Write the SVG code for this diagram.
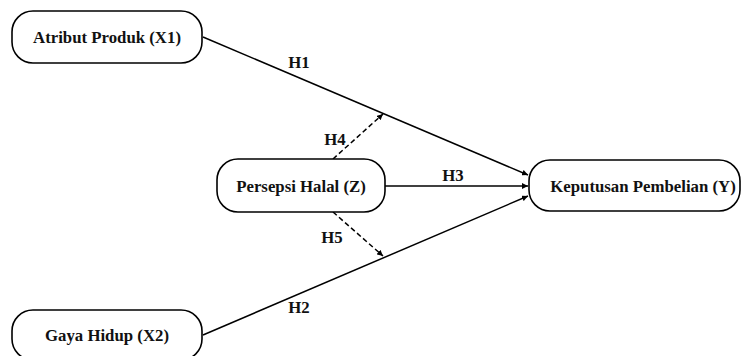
<svg xmlns="http://www.w3.org/2000/svg" width="743" height="356" viewBox="0 0 743 356">
  <style>
    .box { fill: #ffffff; stroke: #000000; stroke-width: 1.6; }
    .lbl { font-family: 'Liberation Serif', 'Times New Roman', serif; font-weight: bold; font-size: 16.8px; fill: #111111; text-anchor: middle; dominant-baseline: central; }
    .edge { fill: none; stroke: #000000; stroke-width: 1.5; }
    .dash { stroke-dasharray: 5 3; }
  </style>
  <defs>
    <marker id="arrow" viewBox="0 0 10 10" refX="10" refY="5" markerWidth="6" markerHeight="6" markerUnits="userSpaceOnUse" orient="auto">
      <path d="M0,0 L10,5 L0,10 z" fill="#000000"/>
    </marker>
  </defs>
  <rect width="743" height="356" fill="#ffffff"/>

  <!-- connectors and their hypothesis labels -->
  <g id="connectors">
    <line class="edge" x1="203" y1="37" x2="528" y2="175" marker-end="url(#arrow)"/>
    <line class="edge" x1="203" y1="335" x2="528" y2="196" marker-end="url(#arrow)"/>
    <line class="edge" x1="385" y1="186" x2="528" y2="186" marker-end="url(#arrow)"/>
    <line class="edge dash" x1="333" y1="159" x2="383" y2="114" marker-end="url(#arrow)"/>
    <line class="edge dash" x1="333" y1="212" x2="383" y2="256" marker-end="url(#arrow)"/>
    <text class="lbl" x="299" y="62">H1</text>
    <text class="lbl" x="299" y="307">H2</text>
    <text class="lbl" x="453" y="175">H3</text>
    <text class="lbl" x="335" y="139">H4</text>
    <text class="lbl" x="332" y="237">H5</text>
  </g>

  <g id="x1">
    <rect class="box" x="12" y="11" width="190" height="52" rx="21" ry="21"/>
    <text class="lbl" x="107" y="37">Atribut Produk (X1)</text>
  </g>
  <g id="x2">
    <rect class="box" x="12" y="310" width="190" height="50" rx="21" ry="21"/>
    <text class="lbl" x="107" y="335">Gaya Hidup (X2)</text>
  </g>
  <g id="z">
    <rect class="box" x="217" y="159" width="168" height="53" rx="21" ry="21"/>
    <text class="lbl" x="301" y="186">Persepsi Halal (Z)</text>
  </g>
  <g id="y">
    <rect class="box" x="529" y="160" width="211" height="51" rx="21" ry="21"/>
    <text class="lbl" x="643" y="186">Keputusan Pembelian (Y)</text>
  </g>
</svg>
